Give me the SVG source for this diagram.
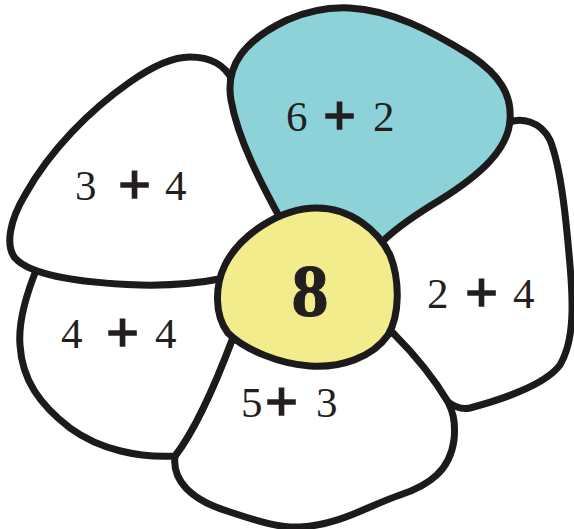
<svg xmlns="http://www.w3.org/2000/svg" width="574" height="529" viewBox="0 0 574 529">
<style>
.petal{fill:#ffffff;stroke:#1c1a1b;stroke-width:7;stroke-linejoin:round}
.teal{fill:#8cd2d8}
.yellow{fill:#f3ec8d}
.lbl{font-family:"Liberation Serif","Times New Roman",serif;font-size:43px;fill:#231f20}
.plus{font-weight:bold;font-size:58px;stroke:#231f20;stroke-width:1.6}
.big{font-family:"Liberation Serif","Times New Roman",serif;font-weight:bold;font-size:74px;fill:#231f20;stroke:#231f20;stroke-width:1}
</style>
<rect width="574" height="529" fill="#ffffff"/>
<g id="petal-2plus4">
<path class="petal" d="M510,122 C520,118 540,120 550,140 C562,170 567,230 570,265 C573,300 575,340 560,365 C545,385 500,400 470,408 C460,410 452,405 448,402 L393,333 L340,300 L360,200 L480,150 L505,125 Z"/>
<text class="lbl" x="427" y="308">2<tspan class="plus" x="465" dy="4">+</tspan><tspan x="513" dy="-4">4</tspan></text>
</g>
<g id="petal-5plus3">
<path class="petal" d="M232,340 C215,385 195,430 175,456 C172,480 190,500 230,512 C260,522 280,528 300,527 C340,525 370,505 400,495 C430,485 450,470 454,440 C456,420 452,410 448,402 C435,380 415,355 393,333 L300,340 Z"/>
<text class="lbl" x="241" y="417">5<tspan class="plus" x="265" dy="4">+</tspan><tspan x="316" dy="-4">3</tspan></text>
</g>
<g id="petal-4plus4">
<path class="petal" d="M37,268 C28,290 18,320 20,345 C22,380 40,405 70,428 C100,450 140,458 175,456 C195,430 215,385 232,340 L260,300 L200,270 Z"/>
<text class="lbl" x="61" y="348">4<tspan class="plus" x="106" dy="4">+</tspan><tspan x="155" dy="-4">4</tspan></text>
</g>
<g id="petal-3plus4">
<path class="petal" d="M232,80 C225,65 210,57 190,57 C170,57 150,68 130,82 C90,110 50,150 25,195 C10,220 5,245 15,258 C30,275 80,283 140,285 C180,286 205,282 225,278 L300,240 L290,120 Z"/>
<text class="lbl" x="75" y="200">3<tspan class="plus" x="118" dy="4">+</tspan><tspan x="165" dy="-4">4</tspan></text>
</g>
<g id="petal-6plus2">
<path class="petal teal" d="M280,218 C262,185 238,140 231,100 C225,65 245,40 287,20 C310,10 330,7 350,8 C390,10 430,30 470,55 C500,75 512,95 510,120 C508,150 480,175 440,200 C420,212 400,225 384,240 L330,270 Z"/>
<text class="lbl" x="286" y="131">6<tspan class="plus" x="323" dy="4">+</tspan><tspan x="373" dy="-4">2</tspan></text>
</g>
<g id="center">
<path class="petal yellow" d="M317,208 C350,208 378,230 390,255 C400,280 400,315 388,335 C372,358 340,368 310,366 C280,364 245,350 228,333 C214,315 215,285 225,265 C240,235 280,208 317,208 Z"/>
<text class="big" x="310" y="316" text-anchor="middle">8</text>
</g>
</svg>
